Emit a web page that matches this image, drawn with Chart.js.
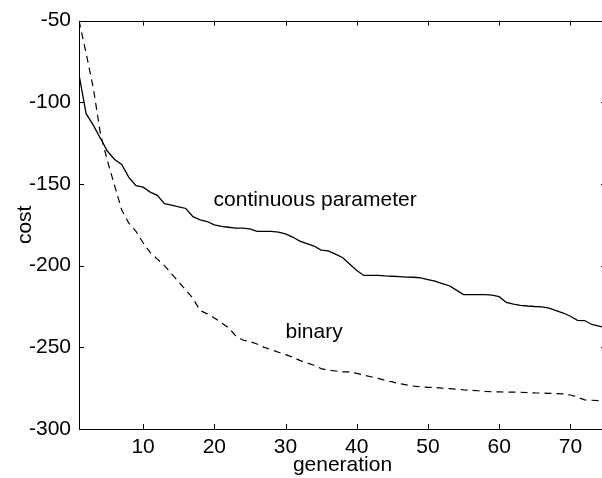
<!DOCTYPE html>
<html lang="en">
<head>
<meta charset="UTF-8">
<title>cost vs generation</title>
<script src="https://cdn.jsdelivr.net/npm/chart.js"></script>
<style>
    html, body { margin: 0; padding: 0; background: #fff; overflow: hidden; }
    #grafico { display: block; }
</style>
</head>
<body>
<canvas id="grafico" width="612" height="478"></canvas>
<script>
    // generations 1..75
    var geracoes = [];
    for (let g = 1; g <= 75; g++) geracoes.push(g);

    var custoContinuo = [
        -83, -107, -114, -122, -130, -135, -138, -146, -151, -152,
        -155, -157, -162, -163, -164, -165, -170, -172, -173, -175,
        -176, -176.5, -177, -177, -177.5, -179, -179, -179, -179.5, -180.5,
        -182.5, -185, -186.5, -188, -190.5, -191, -193, -195, -199, -203,
        -206, -206, -206, -206.3, -206.5, -206.7, -207, -207.1, -207.5, -208.5,
        -209.5, -211, -212.3, -215, -217.7, -217.7, -217.7, -217.7, -218, -219,
        -222.5, -223.5, -224.3, -224.7, -225, -225.2, -226, -227.5, -229, -231,
        -233.5, -233.6, -236, -237, -238
    ];

    var custoBinario = [
        -50, -70, -91, -119, -136, -151, -166, -174, -179, -186,
        -192, -196, -200, -205, -210, -215, -220, -227.5, -229.5, -232,
        -235, -238, -243, -245.5, -246.5, -248, -250, -251.5, -253, -254.5,
        -256, -258, -259.5, -261, -263, -264, -264.5, -265, -265, -266,
        -267, -268, -269, -270.2, -271.2, -272.2, -273, -273.7, -274.2, -274.5,
        -274.6, -275, -275.3, -275.6, -276, -276.3, -276.6, -277, -277.2, -277.3,
        -277.4, -277.4, -277.5, -277.7, -277.9, -278, -278.2, -278.3, -278.5, -279.2,
        -280.5, -282.2, -282.4, -282.6, -282.8
    ];

    var ticksX = [10, 20, 30, 40, 50, 60, 70];
    var ticksY = [-300, -250, -200, -150, -100, -50];

    // text labels placed in data coordinates
    var rotulos = [
        { texto: 'continuous parameter', x: 19.9, y: -163.7 },
        { texto: 'binary', x: 30, y: -244.2 }
    ];

    var fonte = 'Helvetica, "Liberation Sans", Arial, sans-serif';

    // box, inward ticks and text labels (MATLAB look)
    const caixaPlugin = {
        id: 'caixa',
        afterDraw(chart) {
            const ctx = chart.ctx;
            const a = chart.chartArea;
            const sx = chart.scales.x, sy = chart.scales.y;
            ctx.save();
            ctx.strokeStyle = '#000';
            ctx.lineWidth = 1;
            ctx.strokeRect(Math.round(a.left) + 0.5, Math.round(a.top) + 0.5,
                Math.round(a.right - a.left), Math.round(a.bottom - a.top));
            ctx.beginPath();
            ticksX.forEach(v => {
                const px = Math.round(sx.getPixelForValue(v)) + 0.5;
                ctx.moveTo(px, a.bottom); ctx.lineTo(px, a.bottom - 5);
                ctx.moveTo(px, a.top); ctx.lineTo(px, a.top + 5);
            });
            ticksY.forEach(v => {
                const py = Math.round(sy.getPixelForValue(v)) + 0.5;
                ctx.moveTo(a.left, py); ctx.lineTo(a.left + 5, py);
                ctx.moveTo(a.right, py); ctx.lineTo(a.right - 5, py);
            });
            ctx.stroke();

            ctx.fillStyle = '#000';
            ctx.font = '21px ' + fonte;
            ctx.textAlign = 'left';
            ctx.textBaseline = 'alphabetic';
            rotulos.forEach(r => {
                ctx.fillText(r.texto, sx.getPixelForValue(r.x), sy.getPixelForValue(r.y));
            });
            ctx.restore();
        }
    };

    const ctx = document.getElementById('grafico').getContext('2d');
    const myChart = new Chart(ctx, {
        type: 'line',
        data: {
            labels: geracoes,
            datasets: [{
                label: 'continuous parameter',
                data: custoContinuo,
                borderColor: '#000',
                borderWidth: 1.3,
                pointRadius: 0,
                tension: 0,
                fill: false
            }, {
                label: 'binary',
                data: custoBinario,
                borderColor: '#000',
                borderWidth: 1.2,
                borderDash: [7, 5],
                pointRadius: 0,
                tension: 0,
                fill: false
            }]
        },
        options: {
            responsive: false,
            animation: false,
            layout: { padding: { top: 12, right: 6, left: 0, bottom: 0 } },
            plugins: {
                legend: { display: false },
                tooltip: { enabled: false }
            },
            scales: {
                x: {
                    type: 'linear',
                    min: 1,
                    max: 75,
                    grid: { display: false, drawTicks: false },
                    border: { display: false },
                    afterBuildTicks: s => { s.ticks = ticksX.map(v => ({ value: v })); },
                    afterFit: s => { s.height = 49; },
                    ticks: {
                        color: '#000',
                        padding: 6,
                        maxRotation: 0,
                        font: { family: fonte, size: 21 }
                    },
                    title: {
                        display: true,
                        text: 'generation',
                        color: '#000',
                        padding: { top: 0, bottom: 0 },
                        font: { family: fonte, size: 21 }
                    }
                },
                y: {
                    min: -300,
                    max: -50,
                    grid: { display: false, drawTicks: false },
                    border: { display: false },
                    afterBuildTicks: s => { s.ticks = ticksY.map(v => ({ value: v })); },
                    afterFit: s => { s.width = 79; },
                    ticks: {
                        color: '#000',
                        padding: 8,
                        font: { family: fonte, size: 21 }
                    },
                    title: {
                        display: true,
                        text: 'cost',
                        color: '#000',
                        padding: { top: 13, bottom: 0 },
                        font: { family: fonte, size: 21 }
                    }
                }
            }
        },
        plugins: [caixaPlugin]
    });
</script>
</body>
</html>
